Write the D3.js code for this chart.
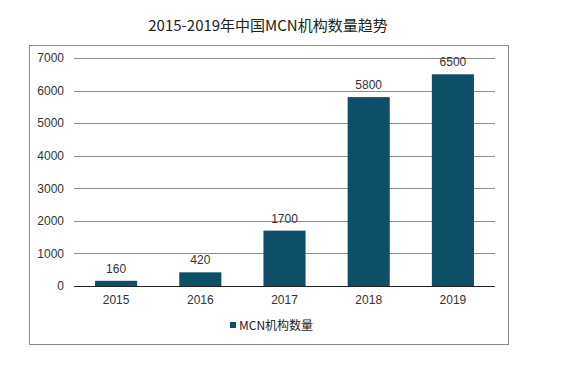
<!DOCTYPE html>
<html>
<head>
<meta charset="utf-8">
<script src="https://cdn.jsdelivr.net/npm/d3@7"></script>
<style>
  body { margin: 0; background: #fff; }
</style>
</head>
<body>
<div id="chart"></div>
<script>
const years = ["2015", "2016", "2017", "2018", "2019"];
const counts = [160, 420, 1700, 5800, 6500];
const yTicks = [0, 1000, 2000, 3000, 4000, 5000, 6000, 7000];
const title = "2015-2019年中国MCN机构数量趋势";
const seriesName = "MCN机构数量";

const width = 581, height = 365;
const barColor = "#0e4f68";

const svg = d3.select("#chart")
  .append("svg")
  .attr("width", width)
  .attr("height", height);

// cadre du graphique
svg.append("rect")
  .attr("x", 29.5)
  .attr("y", 45.5)
  .attr("width", 479)
  .attr("height", 299)
  .attr("fill", "none")
  .attr("stroke", "#8a8a8a");

// titre
svg.append("text")
  .attr("x", 268)
  .attr("y", 31)
  .attr("text-anchor", "middle")
  .style("font-family", "'Noto Sans CJK SC', sans-serif")
  .style("font-size", "15px")
  .attr("fill", "#222")
  .text(title);

// echelles
const x = d3.scaleBand()
  .domain(years)
  .range([74, 495])
  .paddingInner(0.5)
  .paddingOuter(0.25);

const y = d3.scaleLinear()
  .domain([0, 7000])
  .range([286, 58]);

// grille + axe y
const yAxis = svg.append("g")
  .attr("transform", "translate(74,0)")
  .call(d3.axisLeft(y).tickValues(yTicks).tickSize(0).tickPadding(10)
    .tickFormat(d3.format("d")));
yAxis.select(".domain").remove();
yAxis.selectAll("text")
  .style("font-family", "'Liberation Sans', Arial, sans-serif")
  .style("font-size", "12px")
  .attr("fill", "#333");

svg.append("g")
  .selectAll("line")
  .data(yTicks.filter(d => d > 0))
  .join("line")
  .attr("x1", 74)
  .attr("x2", 495)
  .attr("y1", d => Math.round(y(d)) + 0.5)
  .attr("y2", d => Math.round(y(d)) + 0.5)
  .attr("stroke", "#8c8c8c")
  .attr("stroke-width", 1);

// barres
svg.append("g")
  .selectAll("rect")
  .data(counts)
  .join("rect")
  .attr("x", (d, i) => x(years[i]))
  .attr("y", d => y(d))
  .attr("width", x.bandwidth())
  .attr("height", d => y(0) - y(d))
  .attr("fill", barColor);

// axe x
const xAxis = svg.append("g")
  .attr("transform", "translate(0,286)")
  .call(d3.axisBottom(x).tickSize(0).tickPadding(9));
xAxis.select(".domain")
  .attr("d", "M74,0.5H495")
  .attr("stroke", "#222");
xAxis.selectAll("text")
  .style("font-family", "'Liberation Sans', Arial, sans-serif")
  .style("font-size", "12px")
  .attr("fill", "#333");

// etiquettes de valeur
svg.append("g")
  .selectAll("text")
  .data(counts)
  .join("text")
  .attr("x", (d, i) => x(years[i]) + x.bandwidth() / 2)
  .attr("y", d => y(d) - 8)
  .attr("text-anchor", "middle")
  .style("font-family", "'Liberation Sans', Arial, sans-serif")
  .style("font-size", "12px")
  .attr("fill", "#333")
  .text(d => d);

// legende
svg.append("rect")
  .attr("x", 230)
  .attr("y", 322)
  .attr("width", 6)
  .attr("height", 6)
  .attr("fill", barColor);

svg.append("text")
  .attr("x", 239)
  .attr("y", 330)
  .style("font-family", "'Noto Sans CJK SC', sans-serif")
  .style("font-size", "12px")
  .attr("fill", "#222")
  .text(seriesName);
</script>
</body>
</html>
